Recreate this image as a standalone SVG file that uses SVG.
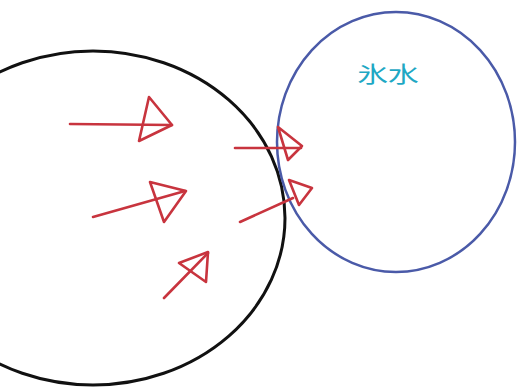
<svg xmlns="http://www.w3.org/2000/svg" width="517" height="387" viewBox="0 0 517 387">
<style>
.red{fill:none;stroke:#c8343e;stroke-width:2.6;stroke-linecap:round;stroke-linejoin:round}
.lbl{font-family:"Noto Sans CJK JP","Noto Sans CJK SC",sans-serif;font-size:22px;fill:#1fa8c4}
</style>
<rect width="517" height="387" fill="#ffffff"/>
<g id="left-circle">
<ellipse cx="93" cy="218" rx="192" ry="167" fill="none" stroke="#111111" stroke-width="3"/>
</g>
<g id="ice-water">
<ellipse cx="396" cy="142" rx="119" ry="130" fill="none" stroke="#4a5aa8" stroke-width="2.5"/>
<text class="lbl" transform="translate(388 82) scale(1.4 1)" text-anchor="middle">氷水</text>
</g>
<g id="connectors">
<path class="red" d="M70 124 L172 125"/>
<path class="red" d="M149 97 L172 125 L139 141 Z"/>
<path class="red" d="M93 217 L185 191"/>
<path class="red" d="M150 182 L186 191 L164 222 Z"/>
<path class="red" d="M164 298 L208 253"/>
<path class="red" d="M179 263 L208 252 L206 282 Z"/>
<path class="red" d="M235 148 L301 148"/>
<path class="red" d="M278 127 L302 146 L288 160 Z"/>
<path class="red" d="M240 222 L293 198"/>
<path class="red" d="M289 180 L312 188 L299 205 Z"/>
</g>
</svg>
